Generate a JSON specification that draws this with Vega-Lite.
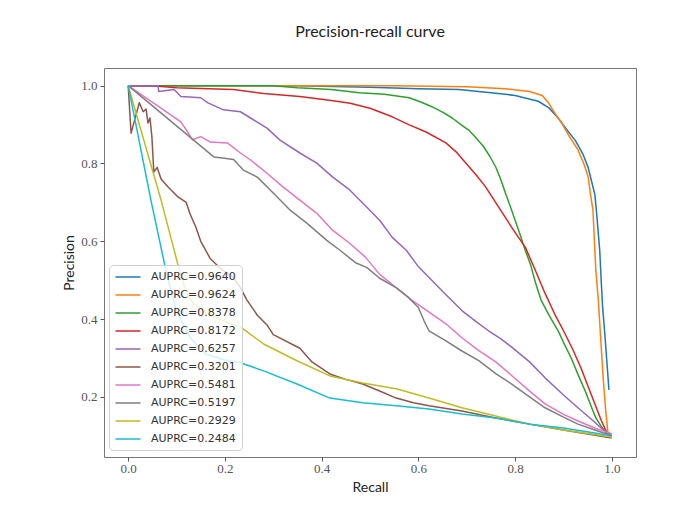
{
  "$schema": "https://vega.github.io/schema/vega-lite/v6.json",
  "width": 532,
  "height": 389,
  "autosize": {"type": "none"},
  "padding": {"left": 104, "top": 68, "right": 51, "bottom": 59},
  "background": "white",
  "title": {"text": "Precision-recall curve", "font": "Lato", "fontSize": 16, "fontWeight": "normal", "color": "#222", "offset": 28},
  "config": {
    "view": {"stroke": "#777", "strokeWidth": 1},
    "axis": {"domain": false, "grid": false, "tickColor": "#555", "tickSize": 4, "tickWidth": 1,
      "labelFont": "Liberation Serif", "labelFontSize": 13, "labelColor": "#555",
      "titleFont": "Lato", "titleFontSize": 14, "titleFontWeight": "normal", "titleColor": "#222"},
    "legend": {"labelFont": "DejaVu Sans", "labelFontSize": 11, "labelColor": "#333", "labelLimit": 200}
  },
  "data": {"values": [
    {"s":"AUPRC=0.9640","r":0,"p":1},{"s":"AUPRC=0.9640","r":0.35,"p":1.0},{"s":"AUPRC=0.9640","r":0.5,"p":0.996},{"s":"AUPRC=0.9640","r":0.6,"p":0.992},{"s":"AUPRC=0.9640","r":0.684,"p":0.99},{"s":"AUPRC=0.9640","r":0.75,"p":0.982},{"s":"AUPRC=0.9640","r":0.8,"p":0.975},{"s":"AUPRC=0.9640","r":0.848,"p":0.96},{"s":"AUPRC=0.9640","r":0.87,"p":0.943},{"s":"AUPRC=0.9640","r":0.889,"p":0.917},{"s":"AUPRC=0.9640","r":0.905,"p":0.89},{"s":"AUPRC=0.9640","r":0.924,"p":0.86},{"s":"AUPRC=0.9640","r":0.94,"p":0.825},{"s":"AUPRC=0.9640","r":0.951,"p":0.79},{"s":"AUPRC=0.9640","r":0.958,"p":0.755},{"s":"AUPRC=0.9640","r":0.965,"p":0.72},{"s":"AUPRC=0.9640","r":0.968,"p":0.68},{"s":"AUPRC=0.9640","r":0.971,"p":0.636},{"s":"AUPRC=0.9640","r":0.975,"p":0.577},{"s":"AUPRC=0.9640","r":0.978,"p":0.5},{"s":"AUPRC=0.9640","r":0.981,"p":0.43},{"s":"AUPRC=0.9640","r":0.985,"p":0.37},{"s":"AUPRC=0.9640","r":0.988,"p":0.32},{"s":"AUPRC=0.9640","r":0.991,"p":0.27},{"s":"AUPRC=0.9640","r":0.994,"p":0.218},
    {"s":"AUPRC=0.9624","r":0,"p":1},{"s":"AUPRC=0.9624","r":0.55,"p":1.0},{"s":"AUPRC=0.9624","r":0.7,"p":0.997},{"s":"AUPRC=0.9624","r":0.78,"p":0.992},{"s":"AUPRC=0.9624","r":0.83,"p":0.985},{"s":"AUPRC=0.9624","r":0.856,"p":0.975},{"s":"AUPRC=0.9624","r":0.869,"p":0.956},{"s":"AUPRC=0.9624","r":0.882,"p":0.93},{"s":"AUPRC=0.9624","r":0.895,"p":0.907},{"s":"AUPRC=0.9624","r":0.912,"p":0.87},{"s":"AUPRC=0.9624","r":0.93,"p":0.835},{"s":"AUPRC=0.9624","r":0.942,"p":0.8},{"s":"AUPRC=0.9624","r":0.951,"p":0.766},{"s":"AUPRC=0.9624","r":0.956,"p":0.72},{"s":"AUPRC=0.9624","r":0.961,"p":0.68},{"s":"AUPRC=0.9624","r":0.964,"p":0.6},{"s":"AUPRC=0.9624","r":0.967,"p":0.525},{"s":"AUPRC=0.9624","r":0.972,"p":0.45},{"s":"AUPRC=0.9624","r":0.977,"p":0.35},{"s":"AUPRC=0.9624","r":0.982,"p":0.25},{"s":"AUPRC=0.9624","r":0.987,"p":0.17},{"s":"AUPRC=0.9624","r":0.992,"p":0.107},{"s":"AUPRC=0.9624","r":1.0,"p":0.105},
    {"s":"AUPRC=0.8378","r":0,"p":1},{"s":"AUPRC=0.8378","r":0.3,"p":1.0},{"s":"AUPRC=0.8378","r":0.35,"p":0.995},{"s":"AUPRC=0.8378","r":0.42,"p":0.99},{"s":"AUPRC=0.8378","r":0.478,"p":0.982},{"s":"AUPRC=0.8378","r":0.53,"p":0.978},{"s":"AUPRC=0.8378","r":0.581,"p":0.969},{"s":"AUPRC=0.8378","r":0.605,"p":0.958},{"s":"AUPRC=0.8378","r":0.628,"p":0.946},{"s":"AUPRC=0.8378","r":0.65,"p":0.932},{"s":"AUPRC=0.8378","r":0.67,"p":0.917},{"s":"AUPRC=0.8378","r":0.688,"p":0.9},{"s":"AUPRC=0.8378","r":0.704,"p":0.886},{"s":"AUPRC=0.8378","r":0.72,"p":0.865},{"s":"AUPRC=0.8378","r":0.735,"p":0.843},{"s":"AUPRC=0.8378","r":0.748,"p":0.818},{"s":"AUPRC=0.8378","r":0.76,"p":0.791},{"s":"AUPRC=0.8378","r":0.77,"p":0.76},{"s":"AUPRC=0.8378","r":0.78,"p":0.724},{"s":"AUPRC=0.8378","r":0.79,"p":0.69},{"s":"AUPRC=0.8378","r":0.8,"p":0.654},{"s":"AUPRC=0.8378","r":0.811,"p":0.615},{"s":"AUPRC=0.8378","r":0.821,"p":0.577},{"s":"AUPRC=0.8378","r":0.832,"p":0.54},{"s":"AUPRC=0.8378","r":0.843,"p":0.49},{"s":"AUPRC=0.8378","r":0.854,"p":0.448},{"s":"AUPRC=0.8378","r":0.87,"p":0.41},{"s":"AUPRC=0.8378","r":0.889,"p":0.37},{"s":"AUPRC=0.8378","r":0.902,"p":0.335},{"s":"AUPRC=0.8378","r":0.916,"p":0.3},{"s":"AUPRC=0.8378","r":0.93,"p":0.258},{"s":"AUPRC=0.8378","r":0.945,"p":0.215},{"s":"AUPRC=0.8378","r":0.956,"p":0.18},{"s":"AUPRC=0.8378","r":0.967,"p":0.146},{"s":"AUPRC=0.8378","r":0.978,"p":0.125},{"s":"AUPRC=0.8378","r":0.99,"p":0.105},{"s":"AUPRC=0.8378","r":1.0,"p":0.1},
    {"s":"AUPRC=0.8172","r":0,"p":1},{"s":"AUPRC=0.8172","r":0.05,"p":1.0},{"s":"AUPRC=0.8172","r":0.1,"p":0.995},{"s":"AUPRC=0.8172","r":0.15,"p":0.993},{"s":"AUPRC=0.8172","r":0.218,"p":0.99},{"s":"AUPRC=0.8172","r":0.28,"p":0.98},{"s":"AUPRC=0.8172","r":0.355,"p":0.972},{"s":"AUPRC=0.8172","r":0.42,"p":0.962},{"s":"AUPRC=0.8172","r":0.459,"p":0.955},{"s":"AUPRC=0.8172","r":0.5,"p":0.942},{"s":"AUPRC=0.8172","r":0.546,"p":0.92},{"s":"AUPRC=0.8172","r":0.58,"p":0.9},{"s":"AUPRC=0.8172","r":0.616,"p":0.881},{"s":"AUPRC=0.8172","r":0.657,"p":0.853},{"s":"AUPRC=0.8172","r":0.678,"p":0.83},{"s":"AUPRC=0.8172","r":0.698,"p":0.801},{"s":"AUPRC=0.8172","r":0.72,"p":0.77},{"s":"AUPRC=0.8172","r":0.739,"p":0.74},{"s":"AUPRC=0.8172","r":0.766,"p":0.688},{"s":"AUPRC=0.8172","r":0.793,"p":0.636},{"s":"AUPRC=0.8172","r":0.807,"p":0.61},{"s":"AUPRC=0.8172","r":0.821,"p":0.585},{"s":"AUPRC=0.8172","r":0.842,"p":0.525},{"s":"AUPRC=0.8172","r":0.862,"p":0.466},{"s":"AUPRC=0.8172","r":0.883,"p":0.41},{"s":"AUPRC=0.8172","r":0.903,"p":0.363},{"s":"AUPRC=0.8172","r":0.92,"p":0.32},{"s":"AUPRC=0.8172","r":0.936,"p":0.275},{"s":"AUPRC=0.8172","r":0.95,"p":0.23},{"s":"AUPRC=0.8172","r":0.965,"p":0.182},{"s":"AUPRC=0.8172","r":0.978,"p":0.14},{"s":"AUPRC=0.8172","r":0.99,"p":0.107},{"s":"AUPRC=0.8172","r":1.0,"p":0.1},
    {"s":"AUPRC=0.6257","r":0,"p":1},{"s":"AUPRC=0.6257","r":0.062,"p":1.0},{"s":"AUPRC=0.6257","r":0.063,"p":0.985},{"s":"AUPRC=0.6257","r":0.095,"p":0.99},{"s":"AUPRC=0.6257","r":0.109,"p":0.972},{"s":"AUPRC=0.6257","r":0.15,"p":0.969},{"s":"AUPRC=0.6257","r":0.165,"p":0.956},{"s":"AUPRC=0.6257","r":0.197,"p":0.938},{"s":"AUPRC=0.6257","r":0.232,"p":0.933},{"s":"AUPRC=0.6257","r":0.253,"p":0.917},{"s":"AUPRC=0.6257","r":0.287,"p":0.891},{"s":"AUPRC=0.6257","r":0.314,"p":0.86},{"s":"AUPRC=0.6257","r":0.355,"p":0.827},{"s":"AUPRC=0.6257","r":0.39,"p":0.801},{"s":"AUPRC=0.6257","r":0.423,"p":0.765},{"s":"AUPRC=0.6257","r":0.458,"p":0.732},{"s":"AUPRC=0.6257","r":0.493,"p":0.688},{"s":"AUPRC=0.6257","r":0.52,"p":0.654},{"s":"AUPRC=0.6257","r":0.546,"p":0.61},{"s":"AUPRC=0.6257","r":0.575,"p":0.577},{"s":"AUPRC=0.6257","r":0.6,"p":0.535},{"s":"AUPRC=0.6257","r":0.622,"p":0.507},{"s":"AUPRC=0.6257","r":0.655,"p":0.465},{"s":"AUPRC=0.6257","r":0.69,"p":0.422},{"s":"AUPRC=0.6257","r":0.718,"p":0.395},{"s":"AUPRC=0.6257","r":0.745,"p":0.37},{"s":"AUPRC=0.6257","r":0.77,"p":0.35},{"s":"AUPRC=0.6257","r":0.793,"p":0.328},{"s":"AUPRC=0.6257","r":0.83,"p":0.29},{"s":"AUPRC=0.6257","r":0.862,"p":0.249},{"s":"AUPRC=0.6257","r":0.9,"p":0.205},{"s":"AUPRC=0.6257","r":0.93,"p":0.172},{"s":"AUPRC=0.6257","r":0.96,"p":0.14},{"s":"AUPRC=0.6257","r":0.99,"p":0.107},{"s":"AUPRC=0.6257","r":1.0,"p":0.1},
    {"s":"AUPRC=0.3201","r":0,"p":1},{"s":"AUPRC=0.3201","r":0.006,"p":0.878},{"s":"AUPRC=0.3201","r":0.023,"p":0.956},{"s":"AUPRC=0.3201","r":0.031,"p":0.933},{"s":"AUPRC=0.3201","r":0.037,"p":0.94},{"s":"AUPRC=0.3201","r":0.041,"p":0.904},{"s":"AUPRC=0.3201","r":0.045,"p":0.917},{"s":"AUPRC=0.3201","r":0.049,"p":0.869},{"s":"AUPRC=0.3201","r":0.053,"p":0.778},{"s":"AUPRC=0.3201","r":0.06,"p":0.79},{"s":"AUPRC=0.3201","r":0.068,"p":0.76},{"s":"AUPRC=0.3201","r":0.082,"p":0.74},{"s":"AUPRC=0.3201","r":0.103,"p":0.714},{"s":"AUPRC=0.3201","r":0.12,"p":0.7},{"s":"AUPRC=0.3201","r":0.128,"p":0.67},{"s":"AUPRC=0.3201","r":0.14,"p":0.636},{"s":"AUPRC=0.3201","r":0.15,"p":0.6},{"s":"AUPRC=0.3201","r":0.17,"p":0.555},{"s":"AUPRC=0.3201","r":0.191,"p":0.53},{"s":"AUPRC=0.3201","r":0.215,"p":0.51},{"s":"AUPRC=0.3201","r":0.232,"p":0.481},{"s":"AUPRC=0.3201","r":0.245,"p":0.45},{"s":"AUPRC=0.3201","r":0.267,"p":0.41},{"s":"AUPRC=0.3201","r":0.287,"p":0.385},{"s":"AUPRC=0.3201","r":0.3,"p":0.36},{"s":"AUPRC=0.3201","r":0.355,"p":0.325},{"s":"AUPRC=0.3201","r":0.38,"p":0.29},{"s":"AUPRC=0.3201","r":0.417,"p":0.259},{"s":"AUPRC=0.3201","r":0.45,"p":0.245},{"s":"AUPRC=0.3201","r":0.485,"p":0.233},{"s":"AUPRC=0.3201","r":0.52,"p":0.215},{"s":"AUPRC=0.3201","r":0.554,"p":0.197},{"s":"AUPRC=0.3201","r":0.59,"p":0.185},{"s":"AUPRC=0.3201","r":0.622,"p":0.177},{"s":"AUPRC=0.3201","r":0.69,"p":0.164},{"s":"AUPRC=0.3201","r":0.76,"p":0.146},{"s":"AUPRC=0.3201","r":0.83,"p":0.13},{"s":"AUPRC=0.3201","r":0.9,"p":0.115},{"s":"AUPRC=0.3201","r":1.0,"p":0.094},
    {"s":"AUPRC=0.5481","r":0,"p":1},{"s":"AUPRC=0.5481","r":0.109,"p":0.907},{"s":"AUPRC=0.5481","r":0.123,"p":0.881},{"s":"AUPRC=0.5481","r":0.133,"p":0.861},{"s":"AUPRC=0.5481","r":0.15,"p":0.869},{"s":"AUPRC=0.5481","r":0.17,"p":0.855},{"s":"AUPRC=0.5481","r":0.205,"p":0.853},{"s":"AUPRC=0.5481","r":0.232,"p":0.827},{"s":"AUPRC=0.5481","r":0.253,"p":0.809},{"s":"AUPRC=0.5481","r":0.287,"p":0.775},{"s":"AUPRC=0.5481","r":0.32,"p":0.74},{"s":"AUPRC=0.5481","r":0.355,"p":0.706},{"s":"AUPRC=0.5481","r":0.39,"p":0.672},{"s":"AUPRC=0.5481","r":0.423,"p":0.628},{"s":"AUPRC=0.5481","r":0.458,"p":0.595},{"s":"AUPRC=0.5481","r":0.49,"p":0.56},{"s":"AUPRC=0.5481","r":0.52,"p":0.515},{"s":"AUPRC=0.5481","r":0.555,"p":0.48},{"s":"AUPRC=0.5481","r":0.587,"p":0.448},{"s":"AUPRC=0.5481","r":0.62,"p":0.42},{"s":"AUPRC=0.5481","r":0.657,"p":0.388},{"s":"AUPRC=0.5481","r":0.69,"p":0.352},{"s":"AUPRC=0.5481","r":0.725,"p":0.319},{"s":"AUPRC=0.5481","r":0.76,"p":0.29},{"s":"AUPRC=0.5481","r":0.793,"p":0.255},{"s":"AUPRC=0.5481","r":0.83,"p":0.215},{"s":"AUPRC=0.5481","r":0.862,"p":0.182},{"s":"AUPRC=0.5481","r":0.9,"p":0.155},{"s":"AUPRC=0.5481","r":0.93,"p":0.138},{"s":"AUPRC=0.5481","r":0.965,"p":0.12},{"s":"AUPRC=0.5481","r":1.0,"p":0.105},
    {"s":"AUPRC=0.5197","r":0,"p":1},{"s":"AUPRC=0.5197","r":0.177,"p":0.817},{"s":"AUPRC=0.5197","r":0.195,"p":0.814},{"s":"AUPRC=0.5197","r":0.218,"p":0.81},{"s":"AUPRC=0.5197","r":0.238,"p":0.783},{"s":"AUPRC=0.5197","r":0.267,"p":0.765},{"s":"AUPRC=0.5197","r":0.3,"p":0.724},{"s":"AUPRC=0.5197","r":0.335,"p":0.68},{"s":"AUPRC=0.5197","r":0.37,"p":0.646},{"s":"AUPRC=0.5197","r":0.41,"p":0.603},{"s":"AUPRC=0.5197","r":0.44,"p":0.575},{"s":"AUPRC=0.5197","r":0.47,"p":0.545},{"s":"AUPRC=0.5197","r":0.493,"p":0.533},{"s":"AUPRC=0.5197","r":0.52,"p":0.505},{"s":"AUPRC=0.5197","r":0.554,"p":0.481},{"s":"AUPRC=0.5197","r":0.58,"p":0.455},{"s":"AUPRC=0.5197","r":0.6,"p":0.43},{"s":"AUPRC=0.5197","r":0.612,"p":0.395},{"s":"AUPRC=0.5197","r":0.622,"p":0.37},{"s":"AUPRC=0.5197","r":0.657,"p":0.344},{"s":"AUPRC=0.5197","r":0.69,"p":0.318},{"s":"AUPRC=0.5197","r":0.725,"p":0.293},{"s":"AUPRC=0.5197","r":0.76,"p":0.26},{"s":"AUPRC=0.5197","r":0.793,"p":0.233},{"s":"AUPRC=0.5197","r":0.83,"p":0.2},{"s":"AUPRC=0.5197","r":0.862,"p":0.172},{"s":"AUPRC=0.5197","r":0.9,"p":0.148},{"s":"AUPRC=0.5197","r":0.93,"p":0.13},{"s":"AUPRC=0.5197","r":0.965,"p":0.115},{"s":"AUPRC=0.5197","r":1.0,"p":0.1},
    {"s":"AUPRC=0.2929","r":0,"p":1},{"s":"AUPRC=0.2929","r":0.068,"p":0.706},{"s":"AUPRC=0.2929","r":0.105,"p":0.53},{"s":"AUPRC=0.2929","r":0.12,"p":0.47},{"s":"AUPRC=0.2929","r":0.135,"p":0.44},{"s":"AUPRC=0.2929","r":0.17,"p":0.41},{"s":"AUPRC=0.2929","r":0.218,"p":0.385},{"s":"AUPRC=0.2929","r":0.232,"p":0.38},{"s":"AUPRC=0.2929","r":0.28,"p":0.336},{"s":"AUPRC=0.2929","r":0.349,"p":0.293},{"s":"AUPRC=0.2929","r":0.417,"p":0.254},{"s":"AUPRC=0.2929","r":0.485,"p":0.236},{"s":"AUPRC=0.2929","r":0.554,"p":0.221},{"s":"AUPRC=0.2929","r":0.622,"p":0.197},{"s":"AUPRC=0.2929","r":0.69,"p":0.172},{"s":"AUPRC=0.2929","r":0.76,"p":0.151},{"s":"AUPRC=0.2929","r":0.83,"p":0.13},{"s":"AUPRC=0.2929","r":0.9,"p":0.115},{"s":"AUPRC=0.2929","r":1.0,"p":0.097},
    {"s":"AUPRC=0.2484","r":0,"p":1},{"s":"AUPRC=0.2484","r":0.047,"p":0.706},{"s":"AUPRC=0.2484","r":0.078,"p":0.525},{"s":"AUPRC=0.2484","r":0.085,"p":0.49},{"s":"AUPRC=0.2484","r":0.1,"p":0.42},{"s":"AUPRC=0.2484","r":0.13,"p":0.35},{"s":"AUPRC=0.2484","r":0.16,"p":0.31},{"s":"AUPRC=0.2484","r":0.2,"p":0.295},{"s":"AUPRC=0.2484","r":0.232,"p":0.288},{"s":"AUPRC=0.2484","r":0.28,"p":0.267},{"s":"AUPRC=0.2484","r":0.349,"p":0.233},{"s":"AUPRC=0.2484","r":0.417,"p":0.197},{"s":"AUPRC=0.2484","r":0.485,"p":0.185},{"s":"AUPRC=0.2484","r":0.554,"p":0.177},{"s":"AUPRC=0.2484","r":0.622,"p":0.169},{"s":"AUPRC=0.2484","r":0.69,"p":0.156},{"s":"AUPRC=0.2484","r":0.76,"p":0.146},{"s":"AUPRC=0.2484","r":0.83,"p":0.13},{"s":"AUPRC=0.2484","r":0.9,"p":0.12},{"s":"AUPRC=0.2484","r":1.0,"p":0.1}
  ]},
  "mark": {"type": "line", "strokeWidth": 1.5, "strokeJoin": "round", "clip": true},
  "encoding": {
    "x": {"field": "r", "type": "quantitative", "title": "Recall",
      "scale": {"domain": [-0.05, 1.05], "nice": false, "zero": false},
      "axis": {"values": [0, 0.2, 0.4, 0.6, 0.8, 1.0], "format": ".1f", "labelPadding": 1, "titlePadding": 5, "labelFlush": false}},
    "y": {"field": "p", "type": "quantitative", "title": "Precision",
      "scale": {"domain": [0.0455, 1.0455], "nice": false, "zero": false},
      "axis": {"values": [0.2, 0.4, 0.6, 0.8, 1.0], "format": ".1f", "labelPadding": 3, "titlePadding": 4, "labelFlush": false}},
    "color": {"field": "s", "type": "nominal",
      "scale": {"domain": ["AUPRC=0.9640","AUPRC=0.9624","AUPRC=0.8378","AUPRC=0.8172","AUPRC=0.6257","AUPRC=0.3201","AUPRC=0.5481","AUPRC=0.5197","AUPRC=0.2929","AUPRC=0.2484"],
        "range": ["#1f77b4","#ff7f0e","#2ca02c","#d62728","#9467bd","#8c564b","#e377c2","#7f7f7f","#bcbd22","#17becf"]},
      "legend": {"title": null, "orient": "none", "legendX": 5, "legendY": 197, "padding": 6,
        "symbolType": "M-2.5,0H2.5", "symbolSize": 100, "symbolStrokeWidth": 1.5, "symbolOffset": 7, "labelOffset": 17,
        "rowPadding": 7, "fillColor": "rgba(255,255,255,0.8)", "strokeColor": "#d0d0d0", "cornerRadius": 4}}
  }
}
